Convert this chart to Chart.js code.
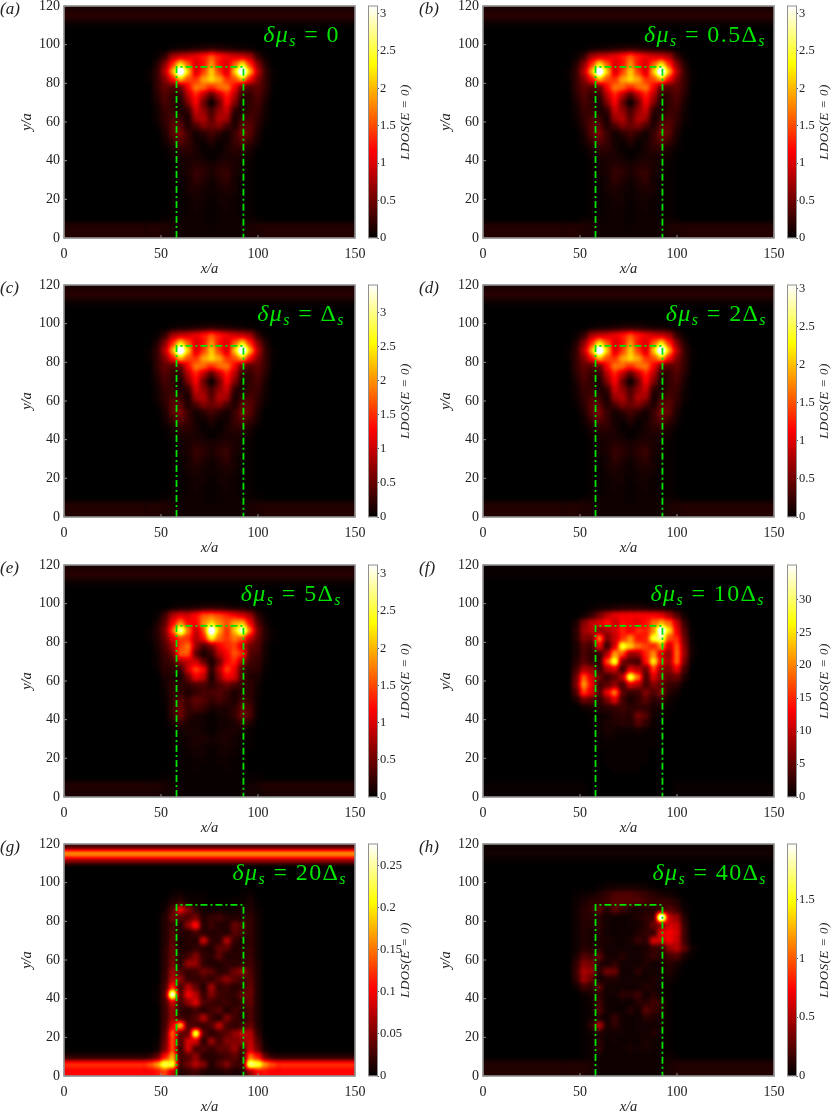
<!DOCTYPE html>
<html>
<head>
<meta charset="utf-8">
<title>LDOS maps</title>
<script src="https://cdn.jsdelivr.net/npm/chart.js@4"></script>
<style>
  html, body { margin: 0; padding: 0; background: #fff; }
  body { position: relative; width: 831px; height: 1117px; overflow: hidden; }
  canvas { position: absolute; }
</style>
</head>
<body>
<script>
// --- Values ---
const panelLetters = ["(a)", "(b)", "(c)", "(d)", "(e)", "(f)", "(g)", "(h)"];
const deltaLabels = ["δμ_s = 0", "δμ_s = 0.5Δ_s", "δμ_s = Δ_s", "δμ_s = 2Δ_s", "δμ_s = 5Δ_s", "δμ_s = 10Δ_s", "δμ_s = 20Δ_s", "δμ_s = 40Δ_s"];
const colorMax = [3.1, 3.1, 3.41, 3.05, 3.12, 35.2, 0.276, 1.97];
const ticksToThree = [0, 0.5, 1, 1.5, 2, 2.5, 3];
const ticksF = [0, 5, 10, 15, 20, 25, 30];
const ticksG = [0, 0.05, 0.1, 0.15, 0.2, 0.25];
const ticksH = [0, 0.5, 1, 1.5];
const colorTicks = [ticksToThree, ticksToThree, ticksToThree, ticksToThree, ticksToThree, ticksF, ticksG, ticksH];

// green outline of the junction
const outlineX = [58, 58, 92.5, 92.5];
const outlineY = [0, 88.5, 88.5, 0];

// cell edges of the maps, in x/a and y/a
const xEdges = [0, 42, 46, 50, 54, 58, 62, 66, 70, 74, 78, 82, 86, 90, 94, 98, 102, 106, 110, 150];
const yEdges = [100, 96, 92, 88, 84, 80, 76, 72, 68, 64, 60, 56, 52, 48, 44, 40, 36, 32, 28, 24, 20, 16, 12, 8, 4, 0];
const bandEdges = [110, 113, 117, 120];

// map rows run from y/a = 98 down to 2, values are percent of the colour bar
const gridTop = [
  [0,0,0,0,1,2,3,4,5,6,5,4,3,2,1,0,0,0,0],
  [0,0,1,7,25,30,32,36,42,52,42,36,32,30,25,7,1,0,0],
  [0,0,5,20,45,75,52,32,40,62,40,32,52,75,45,20,5,0,0],
  [0,1,8,28,65,130,70,30,48,72,48,30,70,130,65,28,8,1,0],
  [0,1,8,20,40,68,50,45,65,75,65,45,50,68,40,20,8,1,0],
  [0,0,8,15,12,15,38,58,55,45,55,58,38,15,12,15,8,0,0],
  [0,0,6,13,8,7,28,44,28,12,28,44,28,7,8,13,6,0,0],
  [0,0,4,11,8,4,20,40,16,0,16,40,20,4,8,11,4,0,0],
  [0,0,3,9,9,4,7,32,22,10,22,32,7,4,9,9,3,0,0],
  [0,0,2,7,11,9,3,25,28,13,28,25,3,9,11,7,2,0,0],
  [0,0,1,6,14,14,4,11,20,16,20,11,4,14,14,6,1,0,0],
  [0,0,0,4,14,19,9,2,6,11,6,2,9,19,14,4,0,0,0],
  [0,0,0,3,9,14,9,3,2,6,2,3,9,14,9,3,0,0,0],
  [0,0,0,1,4,7,7,4,1,2,1,4,7,7,4,1,0,0,0],
  [0,0,0,0,3,4,4,4,3,0,3,4,4,4,3,0,0,0,0],
  [0,0,0,0,1,3,4,6,5,4,5,6,4,3,1,0,0,0,0],
  [0,0,0,0,1,3,4,9,7,4,7,9,4,3,1,0,0,0,0],
  [0,0,0,0,1,2,3,8,5,3,5,8,3,2,1,0,0,0,0],
  [0,0,0,0,1,1,4,5,4,2,4,5,4,1,1,0,0,0,0],
  [0,0,0,0,1,1,3,4,3,2,3,4,3,1,1,0,0,0,0],
  [0,0,0,0,1,1,2,3,3,1,3,3,2,1,1,0,0,0,0],
  [0,0,0,0,1,1,2,3,2,1,2,3,2,1,1,0,0,0,0],
  [0,0,0,1,2,2,2,2,2,1,2,2,2,2,2,1,0,0,0],
  [5,5,5,5,4,3,2,2,2,2,2,2,2,3,4,5,5,5,5],
  [5,5,5,4,4,3,2,2,2,2,2,2,2,3,4,4,5,5,5]
];
const gridE = [
  [0,0,0,0,1,2,3,4,5,5,5,4,3,2,1,0,0,0,0],
  [0,0,1,9,27,34,32,40,52,55,50,44,38,32,24,6,1,0,0],
  [0,0,4,14,38,60,38,38,60,72,60,50,65,68,38,12,3,0,0],
  [0,1,6,18,52,105,58,28,50,125,66,44,70,110,55,18,5,1,0],
  [0,1,5,15,35,48,45,26,40,80,55,46,58,52,30,15,5,1,0],
  [0,0,4,11,24,48,58,22,10,18,36,44,48,32,16,13,3,0,0],
  [0,0,3,9,16,55,52,13,3,9,28,38,52,46,13,10,3,0,0],
  [0,0,2,8,10,24,30,32,15,3,15,38,46,24,10,8,2,0,0],
  [0,0,1,7,7,8,32,50,40,5,26,50,36,10,7,7,1,0,0],
  [0,0,0,4,5,4,16,38,30,2,20,38,34,10,5,4,0,0,0],
  [0,0,0,3,7,7,7,11,11,6,11,16,11,8,7,3,0,0,0],
  [0,0,0,2,8,8,4,8,11,11,13,9,4,8,7,2,0,0,0],
  [0,0,0,1,7,14,9,16,13,8,11,8,4,11,7,1,0,0,0],
  [0,0,0,1,8,16,7,11,9,4,5,4,7,16,11,1,0,0,0],
  [0,0,0,0,8,17,7,4,3,1,3,4,8,18,11,1,0,0,0],
  [0,0,0,0,4,8,4,3,3,1,3,3,4,9,5,0,0,0,0],
  [0,0,0,0,1,3,4,4,3,1,3,4,4,3,1,0,0,0,0],
  [0,0,0,0,1,2,3,4,5,3,4,5,3,2,1,0,0,0,0],
  [0,0,0,0,1,1,3,4,3,2,3,4,3,1,1,0,0,0,0],
  [0,0,0,0,0,1,2,3,3,1,3,3,2,1,0,0,0,0,0],
  [0,0,0,0,0,1,1,2,2,1,2,2,1,1,0,0,0,0,0],
  [0,0,0,0,0,1,1,2,1,1,1,2,1,1,0,0,0,0,0],
  [0,0,0,1,1,1,1,1,1,1,1,1,1,1,1,1,0,0,0],
  [5,5,5,4,3,2,1,1,1,1,1,1,1,2,3,4,5,5,5],
  [4,4,4,3,3,2,1,1,1,1,1,1,1,2,3,3,4,4,4]
];
const gridF = [
  [0,0,0,0,1,2,3,4,5,5,5,4,3,2,1,0,0,0,0],
  [0,0,0,2,8,18,28,35,38,38,38,38,38,35,24,12,2,0,0],
  [0,0,4,20,30,35,42,30,40,38,35,40,55,65,55,30,8,0,0],
  [0,0,6,24,30,22,25,32,44,36,46,42,60,120,72,36,12,1,0],
  [0,0,6,20,18,58,18,30,45,60,40,42,85,95,50,45,16,1,0],
  [0,0,4,13,10,36,8,32,85,70,55,48,42,62,30,52,20,2,0],
  [0,0,4,11,8,8,26,62,50,22,25,44,60,32,22,55,22,2,0],
  [0,0,6,14,8,8,50,85,18,12,10,40,78,38,25,55,18,1,0],
  [0,0,10,26,24,8,26,32,8,34,28,15,48,22,20,36,10,0,0],
  [0,0,16,52,32,16,8,14,28,88,55,10,34,20,14,16,5,0,0],
  [0,0,18,62,38,10,14,22,10,32,26,10,20,15,9,7,1,0,0],
  [0,0,12,48,34,12,36,58,14,8,9,20,12,20,6,3,0,0,0],
  [0,0,4,16,14,7,18,34,10,4,8,14,6,9,3,1,0,0,0],
  [0,0,0,2,4,5,6,8,10,7,8,7,4,4,1,0,0,0,0],
  [0,0,0,0,1,2,3,6,7,6,18,12,3,2,1,0,0,0,0],
  [0,0,0,0,1,2,4,5,6,5,13,7,2,1,0,0,0,0,0],
  [0,0,0,0,0,2,4,3,2,2,3,2,1,1,0,0,0,0,0],
  [0,0,0,0,0,1,2,2,1,1,1,1,1,0,0,0,0,0,0],
  [0,0,0,0,0,1,1,1,1,1,1,1,1,0,0,0,0,0,0],
  [0,0,0,0,0,0,1,1,1,1,1,1,0,0,0,0,0,0,0],
  [0,0,0,0,0,0,1,1,1,1,1,1,0,0,0,0,0,0,0],
  [0,0,0,0,0,0,0,1,1,1,1,0,0,0,0,0,0,0,0],
  [0,0,0,0,0,0,0,0,0,0,0,0,0,0,0,0,0,0,0],
  [1,1,1,1,0,0,0,0,0,0,0,0,0,0,0,1,1,1,1],
  [1,1,1,1,0,0,0,0,0,0,0,0,0,0,0,1,1,1,1]
];
const gridG = [
  [0,0,0,0,0,0,0,0,0,0,0,0,0,0,0,0,0,0,0],
  [0,0,0,0,2,3,1,1,1,0,0,0,0,1,2,0,0,0,0],
  [0,0,0,1,5,8,3,2,2,1,1,1,2,2,4,1,0,0,0],
  [0,0,0,3,12,38,20,8,3,3,3,2,3,5,5,2,0,0,0],
  [0,0,0,5,16,14,12,18,5,8,10,6,5,6,8,3,0,0,0],
  [0,0,0,5,10,5,22,42,5,10,5,5,16,12,8,3,0,0,0],
  [0,0,0,5,12,6,5,10,6,5,6,5,14,10,8,3,0,0,0],
  [0,0,0,5,14,4,6,5,32,8,6,28,8,5,8,3,0,0,0],
  [0,0,0,6,16,5,5,8,6,5,15,14,5,6,9,3,0,0,0],
  [0,0,0,6,16,6,10,20,8,6,14,5,6,6,9,3,0,0,0],
  [0,0,0,6,18,6,24,22,8,5,5,8,6,8,10,4,0,0,0],
  [0,0,0,7,24,12,8,10,17,14,6,8,17,24,12,4,0,0,0],
  [0,0,0,8,28,22,8,8,10,8,14,22,14,10,14,4,0,0,0],
  [0,0,1,10,45,10,28,14,5,25,8,10,6,8,16,4,0,0,0],
  [0,0,1,12,110,12,38,28,8,20,10,7,8,16,16,4,0,0,0],
  [0,0,1,10,32,10,22,34,12,10,8,10,6,10,16,4,0,0,0],
  [0,0,0,9,24,8,6,10,6,10,14,5,10,8,12,4,0,0,0],
  [0,0,0,9,24,10,8,12,28,10,5,20,10,6,12,4,0,0,0],
  [0,0,0,10,34,70,12,10,8,12,30,10,7,10,16,5,0,0,0],
  [0,0,0,12,55,14,15,90,14,6,10,14,22,30,28,8,0,0,0],
  [0,0,1,15,50,12,32,32,5,24,10,20,20,22,30,12,1,0,0],
  [0,0,2,18,50,8,32,10,12,8,14,14,24,10,32,16,2,0,0],
  [5,6,14,40,65,10,12,22,6,6,8,10,14,8,55,40,14,6,5],
  [45,50,62,88,85,10,18,28,20,5,12,20,10,10,95,85,60,50,45],
  [38,38,40,48,30,5,8,10,5,4,4,6,4,5,22,38,40,38,38]
];
const gridH = [
  [0,0,0,0,0,1,2,3,3,3,3,2,1,0,0,0,0,0,0],
  [0,0,1,2,3,5,8,11,12,12,10,8,6,4,3,1,0,0,0],
  [0,0,2,4,7,7,10,13,14,13,12,10,9,9,8,5,1,0,0],
  [0,0,2,6,8,14,5,14,9,5,4,5,6,10,14,9,2,0,0],
  [0,0,2,6,6,6,3,3,2,3,5,7,9,125,30,22,5,0,0],
  [0,0,2,5,5,7,3,2,2,3,3,6,16,20,32,30,8,0,0],
  [0,0,2,5,4,6,3,2,3,2,5,7,8,36,38,32,9,0,0],
  [0,0,2,5,4,5,4,3,2,4,9,6,34,32,38,30,9,0,0],
  [0,0,2,6,5,6,3,3,3,3,3,4,9,8,22,28,14,3,0],
  [0,0,4,12,10,14,4,3,6,3,3,5,9,6,10,12,4,1,0],
  [0,0,7,20,18,6,4,7,3,3,3,5,3,4,6,4,1,0,0],
  [0,0,9,26,22,6,18,16,3,3,7,3,3,4,5,2,0,0,0],
  [0,0,7,24,16,3,5,5,3,3,3,3,5,3,3,1,0,0,0],
  [0,0,2,10,7,14,3,3,3,3,3,6,4,3,1,0,0,0,0],
  [0,0,0,2,4,7,3,3,7,6,10,3,6,3,1,0,0,0,0],
  [0,0,0,1,3,10,2,2,3,2,6,6,10,8,1,0,0,0,0],
  [0,0,0,1,2,12,3,2,2,6,3,14,9,6,1,0,0,0,0],
  [0,0,0,1,3,5,2,9,3,2,3,6,5,4,1,0,0,0,0],
  [0,0,0,1,7,28,4,7,3,2,3,3,3,4,1,0,0,0,0],
  [0,0,0,1,3,5,3,3,3,2,3,3,6,3,1,0,0,0,0],
  [0,0,0,1,2,6,2,3,2,3,2,4,3,2,1,0,0,0,0],
  [0,0,0,1,2,7,2,2,3,4,3,4,3,2,1,0,0,0,0],
  [0,0,0,1,2,3,2,2,2,2,2,2,2,2,2,1,0,0,0],
  [5,5,5,5,4,3,2,2,2,2,2,2,2,3,4,5,5,5,5],
  [5,5,5,5,4,3,2,2,2,2,2,2,2,3,4,5,5,5,5]
];
// panels a to d look the same once scaled to their own colour bar
const panelGrids = [gridTop, gridTop, gridTop, gridTop, gridE, gridF, gridG, gridH];

// band near the top edge, between bandEdges, percent of the colour bar
const bandDim = [2, 6, 4];
const bandF = [0, 1, 1];
const bandG = [22, 60, 10];
const bandH = [1, 3, 2];
const panelBands = [bandDim, bandDim, bandDim, bandDim, bandDim, bandF, bandG, bandH];

// --- Layout ---
const plotLefts = [64, 483];
const plotTops = [6, 285, 565, 844];
const plotWidth = 291;
const plotHeight = 232;
const axisHeight = 40;
const barLefts = [368, 786.5];
const labelRights = [276, 283, 281, 284, 278, 282, 283, 284];
const panelBlur = [2.8, 2.8, 2.8, 2.8, 2.5, 2.2, 2, 2.2];
const serif = "'Liberation Serif', serif";
const textColor = "#222";
const green = "#00e400";
const frameColor = "#8f8f8f";

// --- Colour map (black, red, yellow, white) ---
function hotColor(t) {
    t = Math.max(0, Math.min(1, t));
    return [
        255 * Math.min(1, t / 0.375),
        255 * Math.max(0, Math.min(1, (t - 0.375) / 0.375)),
        255 * Math.max(0, (t - 0.75) / 0.25)
    ];
}

// --- Heat map plugin: cells go through the chart scales, then get smoothed ---
const GRAY_PER_PERCENT = 1.8;
const heatMapPlugin = {
    id: "heatMap",
    beforeDatasetsDraw(chart, args, opts) {
        const area = chart.chartArea;
        const xs = chart.scales.x;
        const ys = chart.scales.y;
        const pad = 14;
        const w = Math.round(area.width) + pad * 2;
        const h = Math.round(area.height) + pad * 2;

        const raw = document.createElement("canvas");
        raw.width = w; raw.height = h;
        const rc = raw.getContext("2d");
        rc.fillStyle = "#000";
        rc.fillRect(0, 0, w, h);

        const cell = (x0, x1, y0, y1, v) => {
            // outer cells run on past the frame so the blur has no dark rim
            const px0 = x0 === 0 ? 0 : xs.getPixelForValue(x0) - area.left + pad;
            const px1 = x1 === 150 ? w : xs.getPixelForValue(x1) - area.left + pad;
            const py0 = y0 === 120 ? 0 : ys.getPixelForValue(y0) - area.top + pad;
            const py1 = y1 === 0 ? h : ys.getPixelForValue(y1) - area.top + pad;
            const g = Math.min(255, Math.round(v * GRAY_PER_PERCENT));
            rc.fillStyle = `rgb(${g},${g},${g})`;
            rc.fillRect(px0, py0, px1 - px0, py1 - py0);
        };

        opts.grid.forEach((row, r) => {
            row.forEach((v, c) => {
                cell(xEdges[c], xEdges[c + 1], yEdges[r], yEdges[r + 1], v);
            });
        });
        opts.band.forEach((v, b) => {
            cell(0, 150, bandEdges[b + 1], bandEdges[b], v);
        });

        const soft = document.createElement("canvas");
        soft.width = w; soft.height = h;
        const sc = soft.getContext("2d", { willReadFrequently: true });
        sc.filter = `blur(${opts.blur}px)`;
        sc.drawImage(raw, 0, 0);
        sc.filter = "none";

        const img = sc.getImageData(0, 0, w, h);
        for (let i = 0; i < img.data.length; i += 4) {
            const col = hotColor(img.data[i] / (100 * GRAY_PER_PERCENT));
            img.data[i] = col[0];
            img.data[i + 1] = col[1];
            img.data[i + 2] = col[2];
            img.data[i + 3] = 255;
        }
        sc.putImageData(img, 0, 0);

        chart.ctx.drawImage(soft, pad, pad, w - pad * 2, h - pad * 2,
            area.left, area.top, area.width, area.height);
    }
};

// --- Green label, panel letter and grey frame ---
function drawDeltaLabel(ctx, text, right, baseline) {
    const parts = [];
    for (let i = 0; i < text.length; i++) {
        if (text[i] === "_") {
            i++;
            parts.push({ ch: text[i], font: "italic 16px " + serif, dy: 3.5 });
        } else {
            const slanted = text[i] === "δ" || text[i] === "μ";
            parts.push({ ch: text[i], font: (slanted ? "italic " : "") + "24px " + serif, dy: 0 });
        }
    }
    const gap = 1.4;
    let width = 0;
    parts.forEach(p => { ctx.font = p.font; width += ctx.measureText(p.ch).width + gap; });
    let x = right - width;
    ctx.fillStyle = green;
    ctx.textAlign = "left";
    ctx.textBaseline = "alphabetic";
    parts.forEach(p => {
        ctx.font = p.font;
        ctx.fillText(p.ch, x, baseline + p.dy);
        x += ctx.measureText(p.ch).width + gap;
    });
}

const overlayPlugin = {
    id: "overlay",
    afterDraw(chart, args, opts) {
        const { ctx, chartArea: area, scales } = chart;
        ctx.save();
        drawDeltaLabel(ctx, opts.delta, area.left + opts.right, area.top + 36);

        // frame with small inward ticks
        ctx.strokeStyle = frameColor;
        ctx.lineWidth = 1.6;
        ctx.strokeRect(area.left, area.top, area.width, area.height);
        ctx.lineWidth = 1;
        ctx.beginPath();
        scales.x.ticks.forEach(t => {
            const px = scales.x.getPixelForValue(t.value);
            ctx.moveTo(px, area.bottom);
            ctx.lineTo(px, area.bottom - 3);
        });
        scales.y.ticks.forEach(t => {
            const py = scales.y.getPixelForValue(t.value);
            ctx.moveTo(area.left, py);
            ctx.lineTo(area.left + 3, py);
        });
        ctx.stroke();

        ctx.fillStyle = textColor;
        ctx.font = "italic 17px " + serif;
        ctx.textAlign = "left";
        ctx.textBaseline = "middle";
        ctx.fillText(opts.letter, 0, area.top + 4);
        ctx.restore();
    }
};

function addCanvas(left, top, width, height) {
    const c = document.createElement("canvas");
    c.width = width;
    c.height = height;
    c.style.left = left + "px";
    c.style.top = top + "px";
    c.style.width = width + "px";
    c.style.height = height + "px";
    document.body.appendChild(c);
    return c;
}

// --- Map panel ---
function makePanel(i) {
    const plotLeft = plotLefts[i % 2];
    const plotTop = plotTops[Math.floor(i / 2)];
    const canvas = addCanvas(plotLeft - 64, plotTop - 12, 64 + plotWidth + 12, 12 + plotHeight + axisHeight);

    new Chart(canvas, {
        type: "scatter",
        data: {
            datasets: [{
                data: outlineX.map((x, k) => ({ x: x, y: outlineY[k] })),
                showLine: true,
                borderColor: green,
                borderWidth: 1.8,
                borderDash: [7, 3, 2, 3],
                pointRadius: 0,
                fill: false,
                clip: false
            }]
        },
        options: {
            responsive: false,
            animation: false,
            layout: { padding: { top: 12, right: 12, left: 0, bottom: 0 } },
            plugins: {
                legend: { display: false },
                tooltip: { enabled: false },
                heatMap: { grid: panelGrids[i], band: panelBands[i], blur: panelBlur[i] },
                overlay: { delta: deltaLabels[i], letter: panelLetters[i], right: labelRights[i] }
            },
            scales: {
                x: {
                    type: "linear", min: 0, max: 150,
                    afterFit: s => { s.height = axisHeight; s.paddingLeft = 0; s.paddingRight = 0; },
                    grid: { display: false, drawTicks: false },
                    border: { display: false },
                    ticks: { stepSize: 50, padding: 8, maxRotation: 0, color: textColor, font: { family: serif, size: 14 } },
                    title: { display: true, text: "x/a", color: textColor, padding: { top: 0, bottom: 0 }, font: { family: serif, size: 14.5, style: "italic" } }
                },
                y: {
                    type: "linear", min: 0, max: 120,
                    afterFit: s => { s.width = 64; s.paddingTop = 0; s.paddingBottom = 0; },
                    grid: { display: false, drawTicks: false },
                    border: { display: false },
                    ticks: { stepSize: 20, padding: 4, color: textColor, font: { family: serif, size: 14 } },
                    title: { display: true, text: "y/a", color: textColor, padding: { top: 18, bottom: 0 }, font: { family: serif, size: 14.5, style: "italic" } }
                }
            }
        },
        plugins: [heatMapPlugin, overlayPlugin]
    });
}

// --- Colour bar, one floating bar from 0 to the top of the scale ---
function makeColorBar(i) {
    const barLeft = barLefts[i % 2];
    const plotTop = plotTops[Math.floor(i / 2)];
    const canvas = addCanvas(barLeft, plotTop - 12, 45, 12 + plotHeight + axisHeight);

    new Chart(canvas, {
        type: "bar",
        data: {
            labels: [""],
            datasets: [{
                data: [[0, colorMax[i]]],
                barPercentage: 1,
                categoryPercentage: 1,
                backgroundColor: ctx => {
                    const area = ctx.chart.chartArea;
                    if (!area) return "#000";
                    const g = ctx.chart.ctx.createLinearGradient(0, area.bottom, 0, area.top);
                    g.addColorStop(0, "#000");
                    g.addColorStop(0.375, "#f00");
                    g.addColorStop(0.75, "#ff0");
                    g.addColorStop(1, "#fff");
                    return g;
                }
            }]
        },
        options: {
            responsive: false,
            animation: false,
            layout: { padding: { top: 12, bottom: axisHeight, left: 0, right: 0 } },
            plugins: { legend: { display: false }, tooltip: { enabled: false } },
            scales: {
                x: { display: false },
                y: {
                    position: "right",
                    min: 0, max: colorMax[i],
                    afterBuildTicks: s => { s.ticks = colorTicks[i].map(v => ({ value: v })); },
                    afterFit: s => { s.width = 36; s.paddingTop = 0; s.paddingBottom = 0; },
                    grid: { drawOnChartArea: false, tickLength: 2, color: "#555" },
                    border: { color: frameColor, width: 1 },
                    ticks: { padding: 1, callback: v => String(v), color: textColor, font: { family: serif, size: 12.5 } }
                }
            }
        },
        plugins: [{
            id: "barFrame",
            afterDraw(chart) {
                const a = chart.chartArea;
                const c = chart.ctx;
                c.save();
                c.strokeStyle = frameColor;
                c.lineWidth = 1;
                c.strokeRect(a.left + 0.5, a.top, a.width, a.height);
                // colour bar caption reads upward, beside the tick labels
                c.translate(38, (a.top + a.bottom) / 2);
                c.rotate(-Math.PI / 2);
                c.fillStyle = textColor;
                c.font = "italic 13px " + serif;
                c.letterSpacing = "0.4px";
                c.textAlign = "center";
                c.textBaseline = "middle";
                c.fillText("LDOS(E = 0)", 0, 0);
                c.restore();
            }
        }]
    });
}

panelLetters.forEach((letter, i) => {
    makePanel(i);
    makeColorBar(i);
});
</script>
</body>
</html>
